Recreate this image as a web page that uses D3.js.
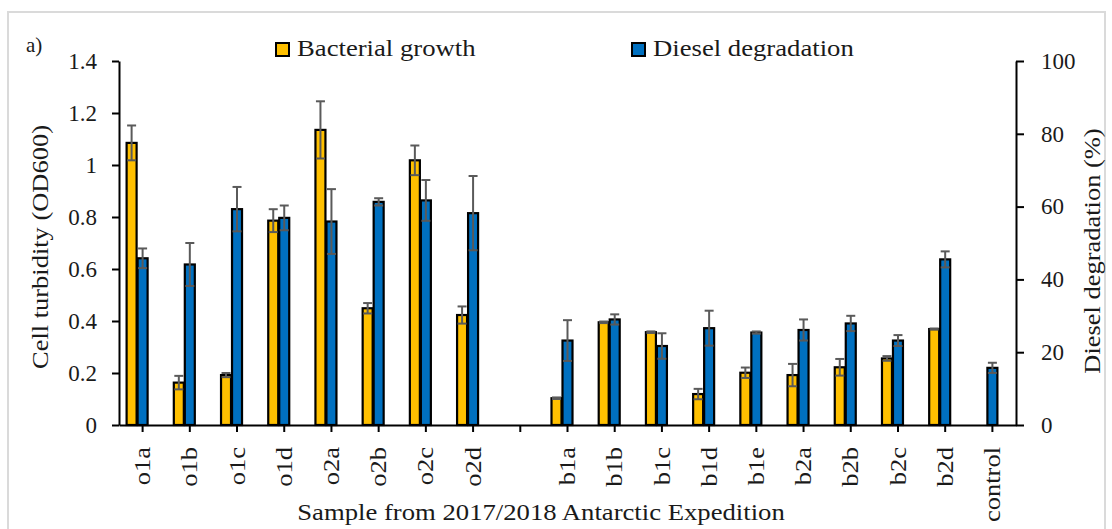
<html>
<head>
<meta charset="utf-8">
<style>
    body { margin: 0; background: #fff; }
    text { font-family: "Liberation Serif", "Times New Roman", serif; fill: #1a1a1a; }
</style>
</head>
<body>
    <script src="https://d3js.org/d3.v7.min.js"></script>
    <div id="main"></div>

    <script>
        // samples, with one empty slot between the two groups
        var samples = ["o1a", "o1b", "o1c", "o1d", "o2a", "o2b", "o2c", "o2d", " ",
            "b1a", "b1b", "b1c", "b1d", "b1e", "b2a", "b2b", "b2c", "b2d", "control"];

        // bacterial growth, OD600 (left axis)
        var growth = [1.085, 0.163, 0.192, 0.786, 1.135, 0.449, 1.018, 0.423, null,
            0.103, 0.395, 0.357, 0.119, 0.201, 0.192, 0.222, 0.256, 0.369, null];
        var growthErr = [0.067, 0.026, 0.008, 0.044, 0.11, 0.02, 0.057, 0.033, null,
            0.003, 0.003, 0.003, 0.02, 0.02, 0.043, 0.032, 0.009, 0.002, null];

        // diesel degradation, % (right axis)
        var degradation = [45.8, 44.1, 59.3, 56.9, 55.9, 61.3, 61.7, 58.2, null,
            23.2, 29.0, 21.7, 26.6, 25.4, 26.1, 27.9, 23.2, 45.5, 15.7];
        var degradationErr = [2.7, 5.9, 6.1, 3.4, 8.9, 1.0, 5.6, 10.2, null,
            5.6, 1.4, 3.5, 4.8, 0.3, 2.9, 2.1, 1.5, 2.2, 1.4];

        var leftTicks = [0, 0.2, 0.4, 0.6, 0.8, 1, 1.2, 1.4];
        var rightTicks = [0, 20, 40, 60, 80, 100];

        var W = 1112, H = 529;
        var plot = { left: 119, right: 1016, top: 61, bottom: 425 };

        var svg = d3.select("#main")
            .append("svg")
            .attr("width", W)
            .attr("height", H);

        // the original font is wider than Liberation Serif, so widen the words a bit
        function widen(sel, k) {
            sel.each(function () {
                var len = this.getComputedTextLength();
                d3.select(this)
                    .attr("textLength", len * k)
                    .attr("lengthAdjust", "spacingAndGlyphs");
            });
        }

        // light frame round the figure
        svg.append("rect")
            .attr("x", 8).attr("y", 12)
            .attr("width", 1097).attr("height", 540)
            .style("fill", "none")
            .style("stroke", "#dadada")
            .style("stroke-width", 2);

        var x = d3.scaleBand()
            .domain(samples)
            .range([plot.left, plot.right])
            .padding(0);

        var yL = d3.scaleLinear().domain([0, 1.4]).range([plot.bottom, plot.top]);
        var yR = d3.scaleLinear().domain([0, 100]).range([plot.bottom, plot.top]);

        var rows = samples.map(function (s, i) {
            return { s: s, g: growth[i], ge: growthErr[i], d: degradation[i], de: degradationErr[i] };
        });

        var barW = 10;
        function cx(d) { return x(d.s) + x.bandwidth() / 2; }

        // yellow bars
        svg.append("g")
            .selectAll("rect")
            .data(rows.filter(function (d) { return d.g != null; }))
            .enter()
            .append("rect")
            .attr("x", function (d) { return cx(d) - 6 - barW; })
            .attr("y", function (d) { return yL(d.g); })
            .attr("width", barW)
            .attr("height", function (d) { return yL(0) - yL(d.g); })
            .style("fill", "#FFC000")
            .style("stroke", "#000")
            .style("stroke-width", 2.2);

        // blue bars
        svg.append("g")
            .selectAll("rect")
            .data(rows.filter(function (d) { return d.d != null; }))
            .enter()
            .append("rect")
            .attr("x", function (d) { return cx(d) - barW / 2; })
            .attr("y", function (d) { return yR(d.d); })
            .attr("width", barW)
            .attr("height", function (d) { return yR(0) - yR(d.d); })
            .style("fill", "#0070C0")
            .style("stroke", "#000")
            .style("stroke-width", 2.2);

        // error bars
        function errorBars(data, px, val, err, scale) {
            var g = svg.append("g")
                .style("stroke", "#5a5a5a")
                .style("stroke-width", 2);
            var e = g.selectAll("g").data(data).enter().append("g");
            e.append("line")
                .attr("x1", px).attr("x2", px)
                .attr("y1", function (d) { return scale(val(d) - err(d)); })
                .attr("y2", function (d) { return scale(val(d) + err(d)); });
            [-1, 1].forEach(function (sgn) {
                e.append("line")
                    .attr("x1", function (d) { return px(d) - 4.5; })
                    .attr("x2", function (d) { return px(d) + 4.5; })
                    .attr("y1", function (d) { return scale(val(d) + sgn * err(d)); })
                    .attr("y2", function (d) { return scale(val(d) + sgn * err(d)); });
            });
        }
        errorBars(rows.filter(function (d) { return d.g != null; }),
            function (d) { return cx(d) - 6 - barW / 2; },
            function (d) { return d.g; }, function (d) { return d.ge; }, yL);
        errorBars(rows.filter(function (d) { return d.d != null; }),
            function (d) { return cx(d); },
            function (d) { return d.d; }, function (d) { return d.de; }, yR);

        // axes
        var axL = svg.append("g")
            .attr("transform", "translate(" + plot.left + ",0)")
            .call(d3.axisLeft(yL).tickValues(leftTicks).tickSize(7).tickSizeOuter(0).tickPadding(15)
                .tickFormat(function (d) { return String(+d.toFixed(1)); }));

        var axR = svg.append("g")
            .attr("transform", "translate(" + plot.right + ",0)")
            .call(d3.axisRight(yR).tickValues(rightTicks).tickSize(8).tickSizeOuter(0).tickPadding(17));

        var axX = svg.append("g")
            .attr("transform", "translate(0," + plot.bottom + ")")
            .call(d3.axisBottom(x).tickSize(7).tickSizeOuter(0));

        [axL, axR, axX].forEach(function (a) {
            a.selectAll("path, line").style("stroke", "#000").style("stroke-width", 2);
            a.selectAll("text")
                .style("font-family", "'Liberation Serif', serif")
                .style("font-size", "23px")
                .style("fill", "#1a1a1a");
        });

        axX.selectAll("text")
            .attr("transform", "rotate(-90)")
            .attr("x", -22)
            .attr("y", 0)
            .attr("dy", "0.33em")
            .style("text-anchor", "end")
            .call(widen, 1.15);

        // axis titles
        svg.append("text")
            .attr("transform", "translate(48,247) rotate(-90)")
            .style("text-anchor", "middle")
            .style("font-size", "23px")
            .text("Cell turbidity (OD600)")
            .call(widen, 1.15);

        svg.append("text")
            .attr("transform", "translate(1100,251) rotate(-90)")
            .style("text-anchor", "middle")
            .style("font-size", "23px")
            .text("Diesel degradation (%)")
            .call(widen, 1.15);

        svg.append("text")
            .attr("x", 541)
            .attr("y", 520)
            .style("text-anchor", "middle")
            .style("font-size", "23px")
            .text("Sample from 2017/2018 Antarctic Expedition")
            .call(widen, 1.16);

        svg.append("text")
            .attr("x", 26)
            .attr("y", 52)
            .style("font-size", "21px")
            .text("a)");

        // legend
        var legend = [
            { name: "Bacterial growth", color: "#FFC000", x: 276 },
            { name: "Diesel degradation", color: "#0070C0", x: 632 }
        ];
        var lg = svg.append("g").selectAll("g").data(legend).enter().append("g")
            .attr("transform", function (d) { return "translate(" + d.x + ",43)"; });
        lg.append("rect")
            .attr("width", 13).attr("height", 13)
            .style("fill", function (d) { return d.color; })
            .style("stroke", "#000")
            .style("stroke-width", 2);
        lg.append("text")
            .attr("x", 21)
            .attr("y", 13)
            .style("font-size", "23px")
            .text(function (d) { return d.name; })
            .call(widen, 1.16);
    </script>
</body>

</html>
